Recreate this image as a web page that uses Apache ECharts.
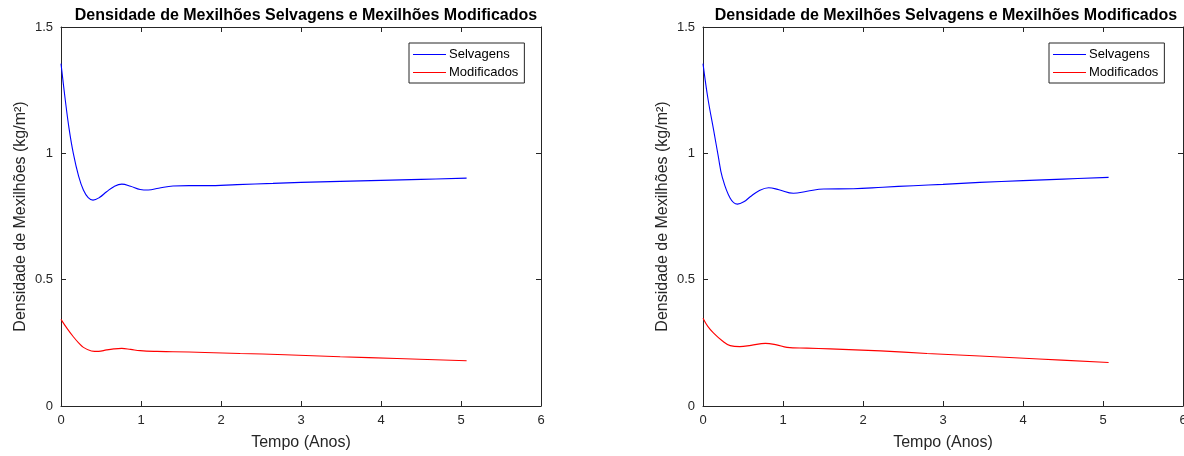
<!DOCTYPE html>
<html>
<head>
<meta charset="utf-8">
<script src="https://cdn.jsdelivr.net/npm/echarts@6/dist/echarts.min.js"></script>
<style>
  html, body { margin: 0; padding: 0; background: #fff; }
  #chart { width: 1184px; height: 456px; }
</style>
</head>
<body>
<div id="chart"></div>
<script>
// dados (tempo em anos, densidade em kg/m^2)
const tituloGrafico = 'Densidade de Mexilhões Selvagens e Mexilhões Modificados'
const nomesSeries = ['Selvagens', 'Modificados']
const xTicks = [0, 1, 2, 3, 4, 5, 6]
const yTicks = [0, 0.5, 1, 1.5]

// grafico da esquerda
const tempoSelvEsq = [0, 0.05, 0.1, 0.154, 0.22, 0.28, 0.34, 0.40, 0.48, 0.57, 0.66, 0.76, 0.87, 0.99, 1.09, 1.22, 1.40, 1.60, 1.82, 2.2, 2.65, 3.0, 3.49, 4.0, 4.5, 5.07]
const selvEsq = [1.355, 1.22, 1.10, 1.0, 0.91, 0.855, 0.825, 0.815, 0.825, 0.848, 0.868, 0.878, 0.870, 0.857, 0.855, 0.862, 0.871, 0.872, 0.872, 0.876, 0.881, 0.885, 0.889, 0.893, 0.897, 0.902]
const tempoModEsq = [0, 0.08, 0.154, 0.22, 0.28, 0.38, 0.47, 0.57, 0.66, 0.76, 0.87, 0.99, 1.2, 1.40, 1.8, 2.24, 2.8, 3.49, 4.2, 5.07]
const modEsq = [0.343, 0.305, 0.274, 0.25, 0.232, 0.218, 0.216, 0.222, 0.226, 0.228, 0.224, 0.219, 0.216, 0.215, 0.212, 0.208, 0.203, 0.195, 0.188, 0.179]

// grafico da direita
const tempoSelvDir = [0, 0.06, 0.133, 0.19, 0.24, 0.34, 0.43, 0.51, 0.59, 0.70, 0.82, 0.95, 1.13, 1.30, 1.51, 1.88, 2.25, 2.63, 3.0, 3.46, 4.0, 4.5, 5.07]
const selvDir = [1.355, 1.22, 1.092, 0.99, 0.907, 0.822, 0.799, 0.808, 0.828, 0.852, 0.864, 0.856, 0.842, 0.850, 0.859, 0.860, 0.866, 0.872, 0.877, 0.885, 0.892, 0.898, 0.905]
const tempoModDir = [0, 0.06, 0.133, 0.24, 0.34, 0.46, 0.6, 0.78, 0.92, 1.05, 1.3, 1.59, 2.22, 2.8, 3.46, 4.2, 5.07]
const modDir = [0.347, 0.315, 0.288, 0.258, 0.239, 0.235, 0.240, 0.248, 0.242, 0.232, 0.229, 0.226, 0.218, 0.208, 0.198, 0.186, 0.172]

const corEixo = '#262626'
const fonte = 'Liberation Sans, Arial, sans-serif'

function pares(t, v) {
  return t.map((x, i) => [x, v[i]])
}

const grids = [
  { left: 61, top: 27, width: 480, height: 379, outerBoundsMode: 'none', containLabel: false },
  { left: 703, top: 27, width: 480, height: 379, outerBoundsMode: 'none', containLabel: false }
]

function eixoX(gridIndex, topo) {
  return {
    type: 'value', gridIndex: gridIndex, min: xTicks[0], max: xTicks[xTicks.length - 1], interval: 1,
    position: topo ? 'top' : 'bottom',
    name: topo ? '' : 'Tempo (Anos)', nameLocation: 'middle', nameGap: 29,
    nameTextStyle: { fontFamily: fonte, fontSize: 16, color: corEixo },
    axisLine: { show: true, onZero: false, lineStyle: { color: corEixo, width: 1 } },
    axisTick: { show: true, inside: true, length: 5, lineStyle: { color: corEixo } },
    axisLabel: { show: !topo, margin: 8, fontFamily: fonte, fontSize: 13, color: corEixo, showMaxLabel: true },
    splitLine: { show: false }
  }
}

function eixoY(gridIndex, direita) {
  return {
    type: 'value', gridIndex: gridIndex, min: yTicks[0], max: yTicks[yTicks.length - 1], interval: 0.5,
    position: direita ? 'right' : 'left',
    name: direita ? '' : 'Densidade de Mexilhões (kg/m²)', nameLocation: 'middle', nameGap: 32,
    nameTextStyle: { fontFamily: fonte, fontSize: 16, color: corEixo },
    axisLine: { show: true, onZero: false, lineStyle: { color: corEixo, width: 1 } },
    axisTick: { show: true, inside: true, length: 5, lineStyle: { color: corEixo } },
    axisLabel: { show: !direita, margin: 8, fontFamily: fonte, fontSize: 13, color: corEixo },
    splitLine: { show: false }
  }
}

function serie(nome, cor, idx, dados) {
  return {
    name: nome, type: 'line', xAxisIndex: idx * 2, yAxisIndex: idx * 2,
    data: dados, smooth: 0.4, showSymbol: false, symbol: 'none',
    lineStyle: { color: cor, width: 1.1 }, itemStyle: { color: cor },
    animation: false
  }
}

function legenda(left) {
  return {
    orient: 'vertical', left: left, top: 43, data: nomesSeries,
    icon: 'rect', itemWidth: 33, itemHeight: 1, itemGap: 5,
    padding: [5, 6, 4, 4],
    borderColor: corEixo, borderWidth: 1, borderRadius: 0,
    backgroundColor: '#fff',
    textStyle: { fontFamily: fonte, fontSize: 13, color: '#000', padding: [0, 0, 0, -2] },
    selectedMode: false
  }
}

const chart = echarts.init(document.getElementById('chart'))
chart.setOption({
  backgroundColor: '#fff',
  animation: false,
  title: [
    { text: tituloGrafico, left: 301, top: 3, textAlign: 'center', textStyle: { fontFamily: fonte, fontSize: 16, fontWeight: 'bold', color: '#000' } },
    { text: tituloGrafico, left: 941, top: 3, textAlign: 'center', textStyle: { fontFamily: fonte, fontSize: 16, fontWeight: 'bold', color: '#000' } }
  ],
  legend: [legenda(409), legenda(1049)],
  grid: grids,
  xAxis: [eixoX(0, false), eixoX(0, true), eixoX(1, false), eixoX(1, true)],
  yAxis: [eixoY(0, false), eixoY(0, true), eixoY(1, false), eixoY(1, true)],
  series: [
    serie(nomesSeries[0], '#0000ff', 0, pares(tempoSelvEsq, selvEsq)),
    serie(nomesSeries[1], '#ff0000', 0, pares(tempoModEsq, modEsq)),
    serie(nomesSeries[0], '#0000ff', 1, pares(tempoSelvDir, selvDir)),
    serie(nomesSeries[1], '#ff0000', 1, pares(tempoModDir, modDir))
  ]
})
</script>
</body>
</html>
